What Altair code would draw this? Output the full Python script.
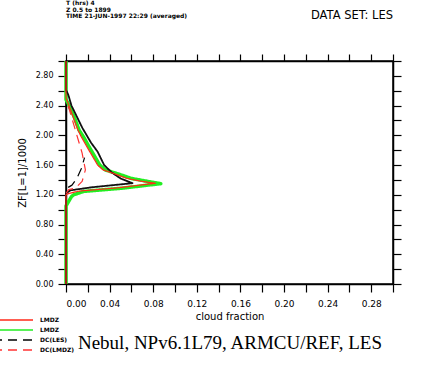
import altair as alt
import pandas as pd

# ---- data ----
ZF_LES = [0.0, 1.20, 1.22, 1.26, 1.30, 1.356, 1.42, 1.50, 1.60, 1.78, 1.90, 2.10, 2.25, 2.40, 2.55, 2.61, 3.0]
CF_LES = [0.0, 0.0, 0.0, 0.004, 0.023, 0.061, 0.050, 0.042, 0.035, 0.029, 0.023, 0.015, 0.010, 0.005, 0.002, 0.0, 0.0]

ZF_LMDZ = [0.0, 1.20, 1.22, 1.25, 1.29, 1.33, 1.355, 1.38, 1.42, 1.48, 1.535, 1.60, 1.70, 1.80, 1.98, 2.07, 2.23, 2.43, 2.50, 3.0]
CF_LMDZ = [0.0, 0.0, 0.003, 0.012, 0.045, 0.068, 0.082, 0.070, 0.056, 0.045, 0.034, 0.029, 0.025, 0.021, 0.014, 0.011, 0.007, 0.002, 0.0, 0.0]

ZF_LMDZ2 = [0.0, 1.05, 1.10, 1.175, 1.20, 1.245, 1.29, 1.33, 1.35, 1.38, 1.42, 1.48, 1.535, 1.60, 1.70, 1.80, 1.98, 2.07, 2.23, 2.43, 2.48, 3.0]
CF_LMDZ2 = [0.0, 0.0, 0.002, 0.005, 0.007, 0.016, 0.052, 0.075, 0.087, 0.075, 0.060, 0.048, 0.036, 0.031, 0.027, 0.023, 0.016, 0.012, 0.008, 0.002, 0.0, 0.0]

ZF_DC_LES = [1.30, 1.33, 1.42, 1.55, 1.65, 1.70]
CF_DC_LES = [0.002, 0.0055, 0.010, 0.014, 0.016, 0.017]

ZF_DC_LMDZ = [1.22, 1.27, 1.29, 1.38, 1.535, 1.76, 2.00, 2.20, 2.35, 2.45]
CF_DC_LMDZ = [0.0, 0.0025, 0.0086, 0.0148, 0.0178, 0.0148, 0.010, 0.006, 0.003, 0.0]

SERIES = ["LMDZ", "LMDZ_2", "DC(LES)", "DC(LMDZ)", "LES"]
COLORS = ["#ff2a1a", "#22ee22", "#000000", "#ff3333", "#111111"]
DASHES = [[1, 0], [1, 0], [9, 6], [9, 6], [1, 0]]
LEGEND_SHOWN = ["LMDZ", "LMDZ_2", "DC(LES)", "DC(LMDZ)"]

X_TICKS = [round(i * 0.02, 2) for i in range(16)]
Y_TICKS = [round(i * 0.2, 1) for i in range(16)]

HEADER = "T (hrs)  4\nZ  0.5 to 1899\nTIME  21-JUN-1997 22:29 (averaged)"
DATASET = "DATA SET: LES"
TITLE = "Nebul, NPv6.1L79, ARMCU/REF, LES"

# draw order: green, black, red, dashed
draw = [
    ("LMDZ_2", ZF_LMDZ2, CF_LMDZ2),
    ("LES", ZF_LES, CF_LES),
    ("LMDZ", ZF_LMDZ, CF_LMDZ),
    ("DC(LES)", ZF_DC_LES, CF_DC_LES),
    ("DC(LMDZ)", ZF_DC_LMDZ, CF_DC_LMDZ),
]
rows = []
for name, zs, cs in draw:
    for i, (z, c) in enumerate(zip(zs, cs)):
        rows.append({"series": name, "zf": z, "cf": c, "idx": i})
df = pd.DataFrame(rows)

xscale = alt.Scale(domain=[0, 0.30], nice=False, zero=False)
yscale = alt.Scale(domain=[0, 3.0], nice=False, zero=False)

FONT = "DejaVu Sans"

x_bottom = alt.Axis(
    orient="bottom", values=X_TICKS, grid=False, tickSize=8, tickColor="black", tickWidth=1.2,
    domainColor="black", domainWidth=1.5,
    labelExpr="round(datum.value*100) % 4 == 0 ? format(datum.value, '.2f') : ''",
    labelFont=FONT, labelFontSize=9, labelColor="black", labelPadding=7,
    title="cloud fraction", titleFont=FONT, titleFontSize=10, titleFontWeight="normal",
    titleColor="black", titlePadding=3,
)
y_left = alt.Axis(
    orient="left", values=Y_TICKS, grid=False, tickSize=8, tickColor="black", tickWidth=1.2,
    domainColor="black", domainWidth=1.5,
    labelExpr="round(datum.value*10) % 4 == 0 ? format(datum.value, '.2f') : ''",
    labelFont=FONT, labelFontSize=8, labelColor="black", labelPadding=5,
    title="ZF[L=1]/1000", titleFont=FONT, titleFontSize=10, titleFontWeight="normal",
    titleColor="black", titlePadding=8,
)
x_top = alt.Axis(orient="top", values=X_TICKS, grid=False, tickSize=7, tickColor="black", tickWidth=1.2,
                 domainColor="black", domainWidth=1.5, labels=False, title=None)
y_right = alt.Axis(orient="right", values=Y_TICKS, grid=False, tickSize=8, tickColor="black", tickWidth=1.2,
                   domainColor="black", domainWidth=1.5, labels=False, title=None)

legend = alt.Legend(
    values=LEGEND_SHOWN, title=None, orient="none", legendX=-36, legendY=256,
    symbolType="M-20,0H0", symbolSize=16, symbolStrokeWidth=1.5,
    labelFont=FONT, labelFontSize=6, labelFontWeight="bold", labelColor="black",
    labelExpr="datum.label == 'LMDZ_2' ? 'LMDZ' : datum.label",
    rowPadding=4, padding=0, labelOffset=4,
)

color_enc = alt.Color("series:N", scale=alt.Scale(domain=SERIES, range=COLORS), legend=legend)
dash_enc = alt.StrokeDash("series:N", scale=alt.Scale(domain=SERIES, range=DASHES), legend=legend)


def profile_layer(names, width, axes=False):
    base = alt.Chart(df).transform_filter(
        alt.FieldOneOfPredicate(field="series", oneOf=names)
    ).mark_line(strokeWidth=width, strokeCap="butt", strokeJoin="round")
    return base.encode(
        x=alt.X("cf:Q", scale=xscale, axis=x_bottom if axes else None),
        y=alt.Y("zf:Q", scale=yscale, axis=y_left if axes else None),
        color=color_enc,
        strokeDash=dash_enc,
        order="idx:Q",
    )


green = profile_layer(["LMDZ_2"], 3.5, axes=True)
black = profile_layer(["LES"], 1.8)
red = profile_layer(["LMDZ"], 1.2)
dashed = profile_layer(["DC(LES)", "DC(LMDZ)"], 1.2)

frame = alt.Chart(df).mark_point(opacity=0).encode(
    x=alt.X("cf:Q", scale=xscale, axis=x_top),
    y=alt.Y("zf:Q", scale=yscale, axis=y_right),
)

header = alt.Chart(pd.DataFrame({"t": [HEADER]})).mark_text(
    align="left", baseline="top", lineBreak="\n", lineHeight=6.6,
    font=FONT, fontSize=6, fontWeight="bold", color="black",
).encode(text="t:N", x=alt.value(0), y=alt.value(-61))

dataset = alt.Chart(pd.DataFrame({"t": [DATASET]})).mark_text(
    align="right", baseline="middle", font=FONT, fontSize=11.5, color="black",
).encode(text="t:N", x=alt.value(327), y=alt.value(-45))

title = alt.Chart(pd.DataFrame({"t": [TITLE]})).mark_text(
    align="center", baseline="middle", font="Liberation Serif", fontSize=19, color="black",
).encode(text="t:N", x=alt.value(164), y=alt.value(282))

chart = alt.layer(green, black, red, dashed, frame, header, dataset, title).resolve_axis(
    x="independent", y="independent"
).properties(
    width=327, height=223,
    autosize=alt.AutoSizeParams(type="none"),
    padding={"left": 66, "top": 61, "right": 32, "bottom": 84},
    background="white",
).configure_view(stroke="black", strokeWidth=1.5)

chart.save("out.html", embed_options={"renderer": "svg", "actions": False})
